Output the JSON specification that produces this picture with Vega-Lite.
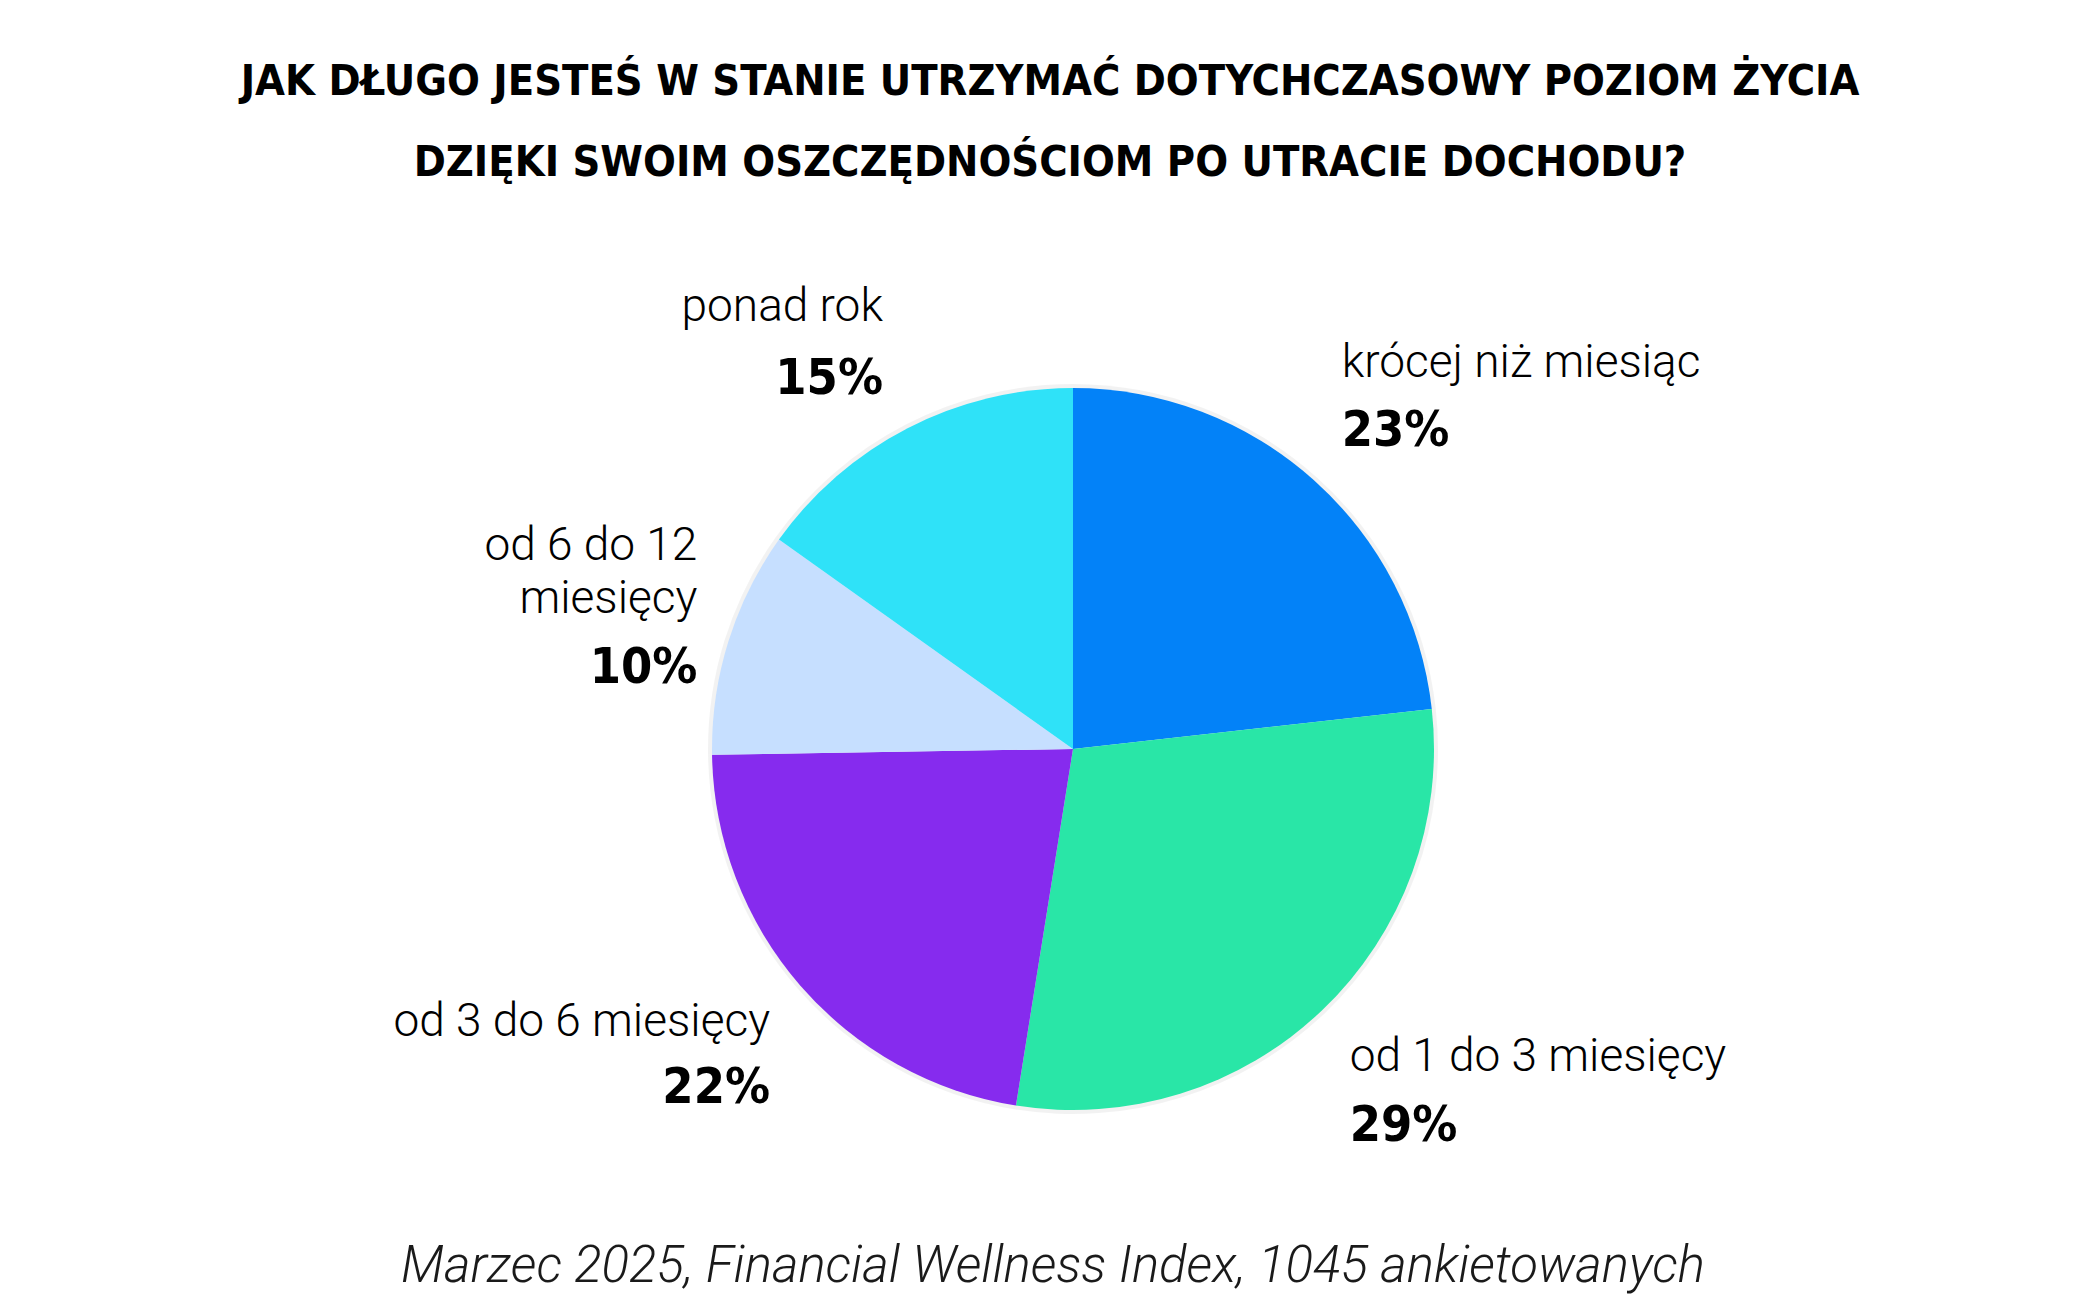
{
  "$schema": "https://vega.github.io/schema/vega-lite/v6.json",
  "background": "white",
  "padding": {"left": 46, "top": 60, "right": 0, "bottom": 10},
  "title": {
    "text": ["JAK DŁUGO JESTEŚ W STANIE UTRZYMAĆ DOTYCHCZASOWY POZIOM ŻYCIA", "DZIĘKI SWOIM OSZCZĘDNOŚCIOM PO UTRACIE DOCHODU?"],
    "anchor": "middle",
    "dx": -23,
    "offset": 84,
    "font": "DejaVu Sans Condensed, DejaVu Sans, sans-serif",
    "fontSize": 43,
    "fontWeight": "bold",
    "lineHeight": 81,
    "color": "#000000"
  },
  "data": {
    "values": [
      {"cat": "krócej niż miesiąc", "label": "krócej niż miesiąc", "share": 0.23, "ord": 1},
      {"cat": "od 1 do 3 miesięcy", "label": "od 1 do 3 miesięcy", "share": 0.29, "ord": 2},
      {"cat": "od 3 do 6 miesięcy", "label": "od 3 do 6 miesięcy", "share": 0.22, "ord": 3},
      {"cat": "od 6 do 12 miesięcy", "label": "od 6 do 12|miesięcy", "share": 0.10, "ord": 4},
      {"cat": "ponad rok", "label": "ponad rok", "share": 0.15, "ord": 5}
    ]
  },
  "vconcat": [
    {
      "width": 2054,
      "height": 898,
      "title": {
        "text": "Marzec 2025, Financial Wellness Index, 1045 ankietowanych",
        "orient": "bottom",
        "anchor": "middle",
        "dx": -20,
        "offset": 44,
        "font": "Roboto",
        "fontSize": 51,
        "fontStyle": "italic",
        "fontWeight": 300,
        "color": "#1a1a1a"
      },
      "encoding": {
        "theta": {"field": "share", "type": "quantitative", "stack": true},
        "order": {"field": "ord", "type": "quantitative"},
        "detail": {"field": "cat", "type": "nominal"}
      },
      "layer": [
        {
          "mark": {"type": "arc", "outerRadius": 365, "color": "#000000", "opacity": 0.05}
        },
        {
          "mark": {"type": "arc", "outerRadius": 361},
          "encoding": {
            "color": {
              "field": "cat",
              "type": "nominal",
              "scale": {
                "domain": ["krócej niż miesiąc", "od 1 do 3 miesięcy", "od 3 do 6 miesięcy", "od 6 do 12 miesięcy", "ponad rok"],
                "range": ["#0382F8", "#29E6A7", "#862BEE", "#C6DFFF", "#2FE2F8"]
              },
              "legend": null
            }
          }
        },
        {
          "mark": {"type": "text", "align": "left", "baseline": "bottom", "dx": -18, "dy": -42, "font": "Roboto", "fontSize": 46, "fontWeight": 300, "lineHeight": 53, "lineBreak": "|", "color": "#000000"},
          "encoding": {"radius": {"value": 430}, "text": {"condition": {"test": "datum.ord == 1", "field": "label", "type": "nominal"}, "value": ""}}
        },
        {
          "mark": {"type": "text", "align": "left", "baseline": "alphabetic", "dx": -18, "dy": 17, "font": "DejaVu Sans Condensed, DejaVu Sans, sans-serif", "fontSize": 50, "fontWeight": "bold", "color": "#000000"},
          "encoding": {"radius": {"value": 430}, "text": {"condition": {"test": "datum.ord == 1", "field": "share", "type": "quantitative", "format": ".0%"}, "value": ""}}
        },
        {
          "mark": {"type": "text", "align": "left", "baseline": "bottom", "dx": -20, "dy": 21, "font": "Roboto", "fontSize": 46, "fontWeight": 300, "lineHeight": 53, "lineBreak": "|", "color": "#000000"},
          "encoding": {"radius": {"value": 430}, "text": {"condition": {"test": "datum.ord == 2", "field": "label", "type": "nominal"}, "value": ""}}
        },
        {
          "mark": {"type": "text", "align": "left", "baseline": "alphabetic", "dx": -20, "dy": 81, "font": "DejaVu Sans Condensed, DejaVu Sans, sans-serif", "fontSize": 50, "fontWeight": "bold", "color": "#000000"},
          "encoding": {"radius": {"value": 430}, "text": {"condition": {"test": "datum.ord == 2", "field": "share", "type": "quantitative", "format": ".0%"}, "value": ""}}
        },
        {
          "mark": {"type": "text", "align": "right", "baseline": "bottom", "dx": 22, "dy": 15, "font": "Roboto", "fontSize": 46, "fontWeight": 300, "lineHeight": 53, "lineBreak": "|", "color": "#000000"},
          "encoding": {"radius": {"value": 430}, "text": {"condition": {"test": "datum.ord == 3", "field": "label", "type": "nominal"}, "value": ""}}
        },
        {
          "mark": {"type": "text", "align": "right", "baseline": "alphabetic", "dx": 22, "dy": 72, "font": "DejaVu Sans Condensed, DejaVu Sans, sans-serif", "fontSize": 50, "fontWeight": "bold", "color": "#000000"},
          "encoding": {"radius": {"value": 430}, "text": {"condition": {"test": "datum.ord == 3", "field": "share", "type": "quantitative", "format": ".0%"}, "value": ""}}
        },
        {
          "mark": {"type": "text", "align": "right", "baseline": "bottom", "dx": 35, "dy": -51, "font": "Roboto", "fontSize": 46, "fontWeight": 300, "lineHeight": 53, "lineBreak": "|", "color": "#000000"},
          "encoding": {"radius": {"value": 430}, "text": {"condition": {"test": "datum.ord == 4", "field": "label", "type": "nominal"}, "value": ""}}
        },
        {
          "mark": {"type": "text", "align": "right", "baseline": "alphabetic", "dx": 35, "dy": 62, "font": "DejaVu Sans Condensed, DejaVu Sans, sans-serif", "fontSize": 50, "fontWeight": "bold", "color": "#000000"},
          "encoding": {"radius": {"value": 430}, "text": {"condition": {"test": "datum.ord == 4", "field": "share", "type": "quantitative", "format": ".0%"}, "value": ""}}
        },
        {
          "mark": {"type": "text", "align": "right", "baseline": "bottom", "dx": 7, "dy": -36, "font": "Roboto", "fontSize": 46, "fontWeight": 300, "lineHeight": 53, "lineBreak": "|", "color": "#000000"},
          "encoding": {"radius": {"value": 430}, "text": {"condition": {"test": "datum.ord == 5", "field": "label", "type": "nominal"}, "value": ""}}
        },
        {
          "mark": {"type": "text", "align": "right", "baseline": "alphabetic", "dx": 7, "dy": 27, "font": "DejaVu Sans Condensed, DejaVu Sans, sans-serif", "fontSize": 50, "fontWeight": "bold", "color": "#000000"},
          "encoding": {"radius": {"value": 430}, "text": {"condition": {"test": "datum.ord == 5", "field": "share", "type": "quantitative", "format": ".0%"}, "value": ""}}
        }
      ]
    }
  ],
  "config": {
    "view": {"stroke": null}
  }
}
